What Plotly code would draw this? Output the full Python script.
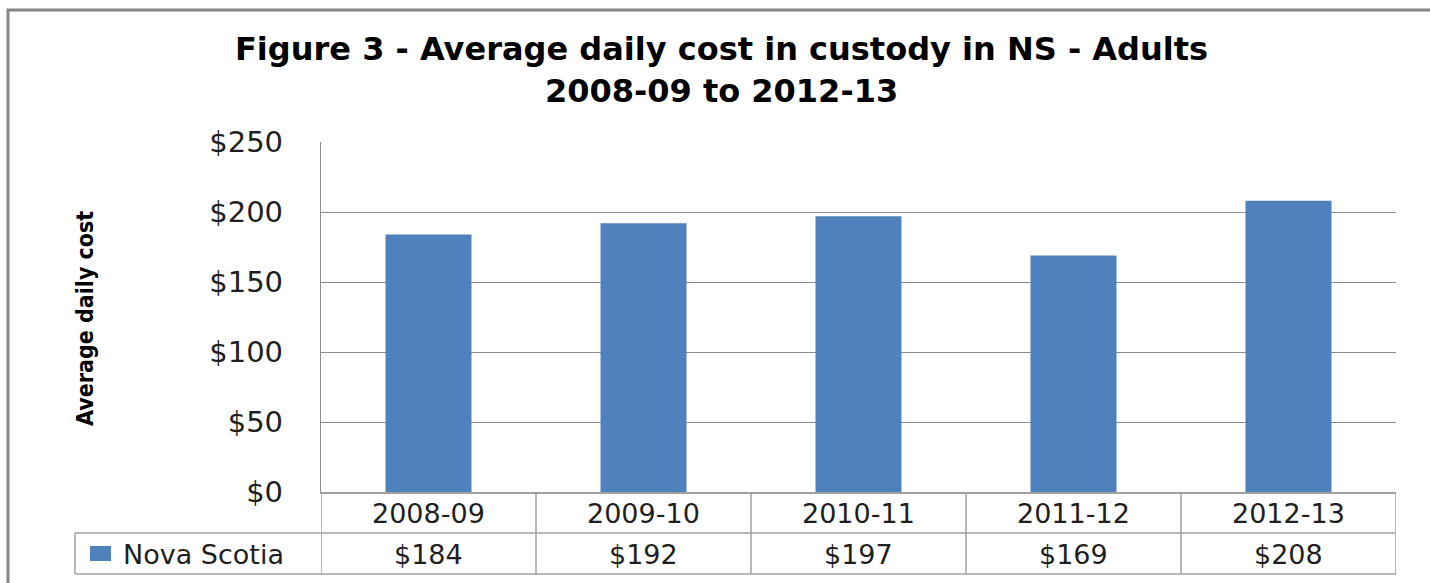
import plotly.graph_objects as go

categories = ["2008-09", "2009-10", "2010-11", "2011-12", "2012-13"]
values = [184, 192, 197, 169, 208]
series_name = "Nova Scotia"
y_ticks = [0, 50, 100, 150, 200, 250]
y_tick_labels = ["$0", "$50", "$100", "$150", "$200", "$250"]
value_labels = ["$" + str(v) for v in values]
title_lines = ["Figure 3 - Average daily cost in custody in NS - Adults", "2008-09 to 2012-13"]
y_title = "Average daily cost"

W, H = 1430, 583
L, R, T, B = 321, 34, 142, 91
PW = W - L - R
PH = H - T - B

BAR = "#4F81BD"
GRID = "#8C8C8C"
TBL = "#A0A0A0"
TXT = "#1F1F1F"


def px_x(p):
    return (p - L) / PW


def px_y(p):
    return (H - B - p) / PH


fig = go.Figure()
fig.add_trace(go.Bar(x=categories, y=values, width=0.4, name=series_name,
                     marker=dict(color=BAR, line=dict(width=0)), showlegend=False))

shapes = []
# frame
shapes.append(dict(type="rect", xref="paper", yref="paper",
                   x0=px_x(8), x1=px_x(1445), y0=px_y(10), y1=px_y(600),
                   line=dict(color="#868686", width=3), layer="below"))
# table verticals
for i in range(len(categories) + 1):
    shapes.append(dict(type="line", xref="x", yref="paper",
                       x0=i - 0.5, x1=i - 0.5, y0=px_y(492), y1=px_y(574),
                       line=dict(color=TBL, width=1.5)))
# table horizontals
for yy in (533, 574):
    shapes.append(dict(type="line", xref="paper", yref="paper",
                       x0=px_x(75), x1=1.0, y0=px_y(yy), y1=px_y(yy),
                       line=dict(color=TBL, width=1.5)))
shapes.append(dict(type="line", xref="paper", yref="paper",
                   x0=px_x(75), x1=px_x(75), y0=px_y(533), y1=px_y(574),
                   line=dict(color=TBL, width=1.5)))
# legend key
shapes.append(dict(type="rect", xref="paper", yref="paper",
                   x0=px_x(90), x1=px_x(111), y0=px_y(546), y1=px_y(561),
                   fillcolor=BAR, line=dict(width=0)))

ann = []
tfont = dict(family="DejaVu Sans", size=27, color=TXT)
for c, vl in zip(categories, value_labels):
    ann.append(dict(x=c, xref="x", y=px_y(513), yref="paper", text=c, showarrow=False,
                    xanchor="center", yanchor="middle", font=tfont))
    ann.append(dict(x=c, xref="x", y=px_y(554), yref="paper", text=vl, showarrow=False,
                    xanchor="center", yanchor="middle", font=tfont))
ann.append(dict(x=px_x(121), xref="paper", y=px_y(554), yref="paper", text=series_name,
                showarrow=False, xanchor="left", yanchor="middle", font=tfont))
ann.append(dict(x=px_x(721), xref="paper", y=px_y(70), yref="paper",
                text="<b>" + "<br>".join(title_lines) + "</b>", showarrow=False,
                xanchor="center", yanchor="middle",
                font=dict(family="DejaVu Sans", size=32, color="#000000")))
ann.append(dict(x=px_x(85), xref="paper", y=px_y(318), yref="paper",
                text="<b>" + y_title + "</b>", textangle=-90, showarrow=False,
                xanchor="center", yanchor="middle",
                font=dict(family="DejaVu Sans Condensed, sans-serif",
                          size=23, color="#000000")))

fig.update_layout(
    width=W, height=H,
    margin=dict(l=L, r=R, t=T, b=B, pad=0),
    paper_bgcolor="white", plot_bgcolor="white",
    shapes=shapes, annotations=ann,
    bargap=0.6,
    xaxis=dict(type="category", range=[-0.5, len(categories) - 0.5], showticklabels=False,
               showgrid=False, zeroline=False, showline=True, linecolor=TBL, linewidth=1.5,
               ticks="", fixedrange=True),
    yaxis=dict(range=[0, 250], tickvals=y_ticks, ticktext=y_tick_labels,
               showgrid=True, gridcolor=GRID, gridwidth=1.3, zeroline=False,
               showline=True, linecolor=GRID, linewidth=1.3, ticks="",
               ticklabelstandoff=31,
               tickfont=dict(family="DejaVu Sans", size=29, color=TXT), fixedrange=True),
)

fig.write_html("out.html")
